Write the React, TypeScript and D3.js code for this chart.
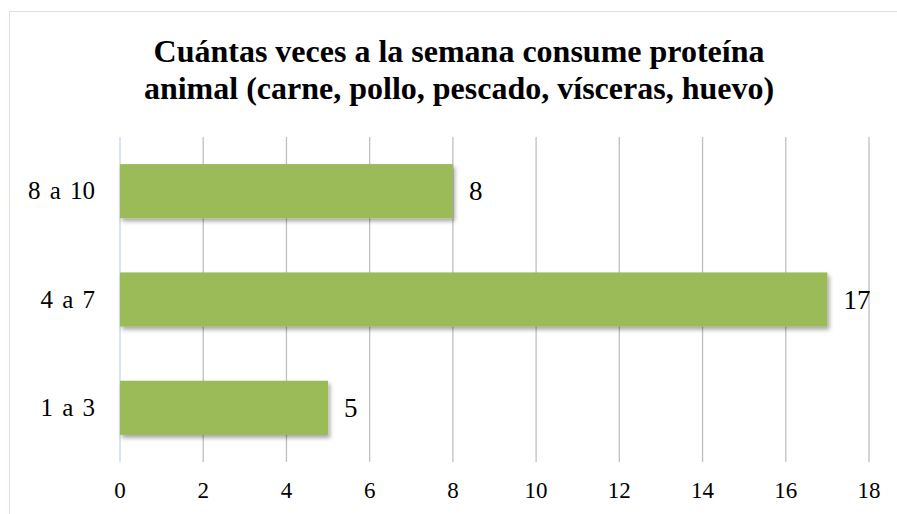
import React from 'react';
import * as d3 from 'd3';

const categories = ['8 a 10', '4 a 7', '1 a 3'];
const values = [8, 17, 5];
const xTicks = [0, 2, 4, 6, 8, 10, 12, 14, 16, 18];
const titleLines = [
  'Cuántas veces a la semana consume proteína',
  'animal (carne, pollo, pescado, vísceras, huevo)',
];

const width = 897;
const height = 514;
const serif = "'Liberation Serif', 'Times New Roman', Tinos";

export default function App() {
  const x = d3.scaleLinear().domain([0, 18]).range([120, 869]);
  const y = d3
    .scaleBand<string>()
    .domain(categories)
    .range([137, 462])
    .paddingInner(0.5)
    .paddingOuter(0.25);

  return (
    <svg
      width={width}
      height={height}
      style={{ position: 'absolute', left: 0, top: 0, fontFamily: serif }}
    >
      <defs>
        <filter id="shadow" x="-5%" y="-20%" width="115%" height="160%">
          <feDropShadow dx="2" dy="3" stdDeviation="2" floodColor="#000" floodOpacity="0.35" />
        </filter>
      </defs>

      {/* chart frame, right and bottom edges fall outside the crop */}
      <rect x={9.5} y={11.5} width={width + 10} height={height + 10} fill="none" stroke="#d9e1f0" strokeWidth={1} />

      {/* title */}
      {titleLines.map((t, i) => (
        <text
          key={t}
          x={459}
          y={62 + i * 37}
          textAnchor="middle"
          style={{ fontFamily: serif, fontWeight: 'bold', fontSize: 32 }}
          fill="#000"
        >
          {t}
        </text>
      ))}

      {/* gridlines */}
      {xTicks.map((t) => (
        <line
          key={t}
          x1={x(t)}
          x2={x(t)}
          y1={137}
          y2={462}
          stroke={t === 0 ? '#c6d4ea' : '#bfbfbf'}
          strokeWidth={1.3}
        />
      ))}

      {/* bars */}
      {categories.map((c, i) => (
        <rect
          key={c}
          x={x(0)}
          y={y(c)}
          width={x(values[i]) - x(0)}
          height={y.bandwidth()}
          fill="#9bbb59"
          filter="url(#shadow)"
        />
      ))}

      {/* value labels */}
      {categories.map((c, i) => (
        <text
          key={c}
          x={x(values[i]) + 16}
          y={(y(c) ?? 0) + y.bandwidth() / 2 + 9}
          style={{ fontFamily: serif, fontSize: 27 }}
          fill="#000"
        >
          {values[i]}
        </text>
      ))}

      {/* category labels */}
      {categories.map((c) => (
        <text
          key={c}
          x={95}
          y={(y(c) ?? 0) + y.bandwidth() / 2 + 8}
          textAnchor="end"
          style={{ fontFamily: serif, fontSize: 25, wordSpacing: 3 }}
          fill="#000"
        >
          {c}
        </text>
      ))}

      {/* x tick labels */}
      {xTicks.map((t) => (
        <text
          key={t}
          x={x(t)}
          y={498}
          textAnchor="middle"
          style={{ fontFamily: serif, fontSize: 23 }}
          fill="#000"
        >
          {t}
        </text>
      ))}
    </svg>
  );
}
